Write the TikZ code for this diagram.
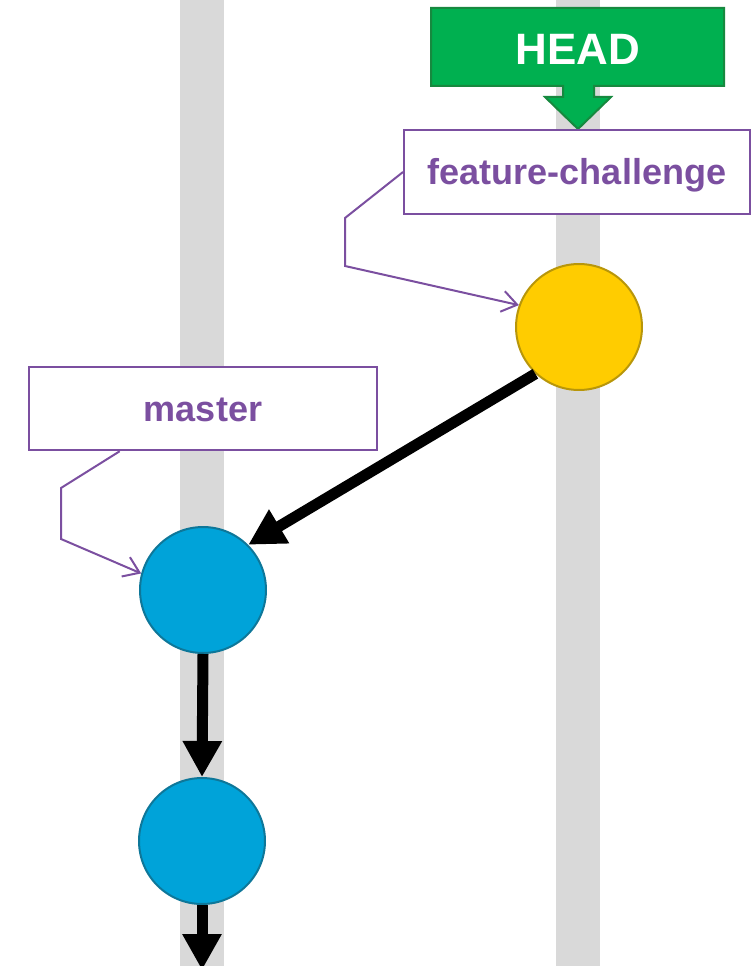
\documentclass[tikz,border=0pt]{standalone}
\usepackage{fontspec}
\setmainfont{Liberation Sans}
\usetikzlibrary{arrows.meta,calc}

\definecolor{lanegray}{HTML}{D9D9D9}
\definecolor{headgreen}{HTML}{00B050}
\definecolor{headedge}{HTML}{17893F}
\definecolor{refpurple}{HTML}{7B4FA0}
\definecolor{commitblue}{HTML}{00A3D9}
\definecolor{blueedge}{HTML}{0E7799}
\definecolor{commityellow}{HTML}{FFCC00}
\definecolor{yellowedge}{HTML}{B8960A}

\begin{document}
\begin{tikzpicture}[x=0.02cm,y=-0.02cm,
    lane/.style={fill=lanegray},
    commit/.style={circle,line width=0.04cm,minimum size=2.52cm,inner sep=0pt},
    refbox/.style={rectangle,draw=refpurple,fill=white,line width=0.04cm,text=refpurple,
      font=\fontsize{20.5}{24}\selectfont\bfseries,minimum height=1.67cm,
      text height=0.62cm,text depth=0.12cm},
    pointer/.style={draw=refpurple,line width=0.04cm,-{Straight Barb[length=0.3cm,width=0.42cm]}},
    parent/.style={line width=0.22cm,-{Triangle[length=0.72cm,width=0.74cm]}}]

      \useasboundingbox (0,0) rectangle (751,966);

      % branch lanes
      \fill[lane] (180,0) rectangle (224,966);
      \fill[lane] (556,0) rectangle (600,966);

      % HEAD marker
      \draw[fill=headgreen,draw=headedge,line width=0.04cm] (431,8) -- (724,8) -- (724,86) -- (594,86)
        -- (594,97) -- (611,97) -- (578,129) -- (545,97) -- (563,97) -- (563,86) -- (431,86) -- cycle;
      \node[text=white,font=\fontsize{25}{30}\selectfont\bfseries] (head) at (578,49) {HEAD};

      % commits
      \node[commit,fill=commityellow,draw=yellowedge] (c1) at (579,327) {};
      \node[commit,fill=commitblue,draw=blueedge] (c2) at (203,590) {};
      \node[commit,fill=commitblue,draw=blueedge] (c3) at (202,841) {};
      \coordinate (tail) at (202,970);

      % branch labels
      \node[refbox,minimum width=6.92cm] (fc) at (577,172) {feature-challenge};
      \node[refbox,minimum width=6.96cm] (master) at (203,408.5) {master};

      \draw[pointer] (fc.west) -- (345,218) -- (345,266) -- (c1.160);
      \draw[pointer] ($(master.south west)!0.262!(master.south east)$) -- (61,488) -- (61,539) -- (c2.165);

      \draw[parent] (c1.227) -- (c2.45);
      \draw[parent] (c2.south) -- (c3.north);
      \draw[parent] (c3.south) -- (tail);

    \end{tikzpicture}
\end{document}
